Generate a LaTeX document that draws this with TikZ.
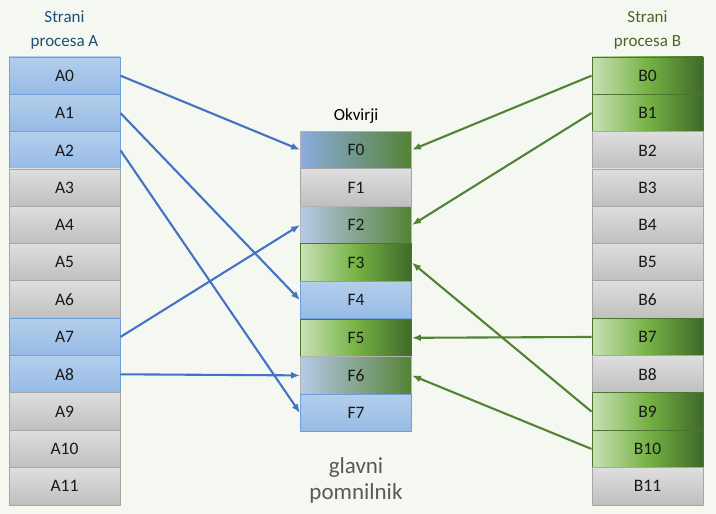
\documentclass[tikz,border=0pt]{standalone}
\usepackage{fontspec}
\setmainfont{Carlito}
\usetikzlibrary{arrows.meta}
\definecolor{pozadina}{HTML}{F4F8F1}
\definecolor{plavastr}{HTML}{4472C4}
\definecolor{zelenastr}{HTML}{548235}
\definecolor{naslovA}{HTML}{1F4E79}
\definecolor{naslovB}{HTML}{4F6228}
\definecolor{sivitekst}{HTML}{595959}
\begin{document}
\begin{tikzpicture}[x=1pt,y=-1pt,
  celija/.style={draw,line width=.9pt,minimum width=111pt,minimum height=37.4pt,inner sep=0pt,font=\fontsize{17.5}{20}\selectfont,text=black!90},
  plava/.style={celija,draw={rgb,255:red,110;green,160;blue,220},top color={rgb,255:red,180;green,206;blue,236},bottom color={rgb,255:red,150;green,186;blue,229}},
  siva/.style={celija,draw=black!35,top color=black!13,bottom color=black!25},
  zelena/.style={celija,draw=zelenastr!90!black,left color={rgb,255:red,200;green,225;blue,182},right color={rgb,255:red,62;green,105;blue,40},middle color={rgb,255:red,118;green,178;blue,68}},
  mjesF0/.style={celija,draw=black!30,left color={rgb,255:red,140;green,172;blue,222},right color={rgb,255:red,84;green,130;blue,53}},
  mjesF/.style={celija,draw=black!30,left color={rgb,255:red,182;green,201;blue,232},right color={rgb,255:red,84;green,130;blue,53}},
  strA/.style={draw=plavastr,line width=2.1pt,-{Latex[length=9pt,width=7pt]}},
  strB/.style={draw=zelenastr,line width=2.1pt,-{Latex[length=9pt,width=7pt]}}]
\fill[pozadina](0,0)rectangle(716,514);\useasboundingbox(0,0)rectangle(716,514);
% stranice procesa A
\foreach\i/\s in {0/plava,1/plava,2/plava,3/siva,4/siva,5/siva,6/siva,7/plava,8/plava,9/siva,10/siva,11/siva}
  \node[\s](A\i)at(64.5,{57+37.33*(\i+.5)}){A\i};
% stranice procesa B
\foreach\i/\s in {0/zelena,1/zelena,2/siva,3/siva,4/siva,5/siva,6/siva,7/zelena,8/siva,9/zelena,10/zelena,11/siva}
  \node[\s](B\i)at(647.5,{57+37.33*(\i+.5)}){B\i};
% okvirji
\foreach\i/\s in {0/mjesF0,1/siva,2/mjesF,3/zelena,4/plava,5/zelena,6/mjesF,7/plava}
  \node[\s](F\i)at(356,{131+37.6*(\i+.5)}){F\i};
\node[font=\fontsize{17}{24}\selectfont,text=naslovA,align=center](nasA)at(64.5,30){Strani\\procesa A};
\node[font=\fontsize{17}{24}\selectfont,text=naslovB,align=center](nasB)at(647.5,30){Strani\\procesa B};
\node[font=\fontsize{17}{20}\selectfont](okv)at(356,116){Okvirji};
\node[font=\fontsize{23}{26}\selectfont,text=sivitekst,align=center](glp)at(356,480){glavni\\pomnilnik};
% preslikave
\draw[strA](A0.east)--(F0.west);\draw[strA](A1.east)--(F4.west);\draw[strA](A2.east)--(F7.west);
\draw[strA](A7.east)--(F2.west);\draw[strA](A8.east)--(F6.west);
\draw[strB](B0.west)--(F0.east);\draw[strB](B1.west)--(F2.east);\draw[strB](B7.west)--(F5.east);
\draw[strB](B9.west)--(F3.east);\draw[strB](B10.west)--(F6.east);
\end{tikzpicture}
\end{document}
